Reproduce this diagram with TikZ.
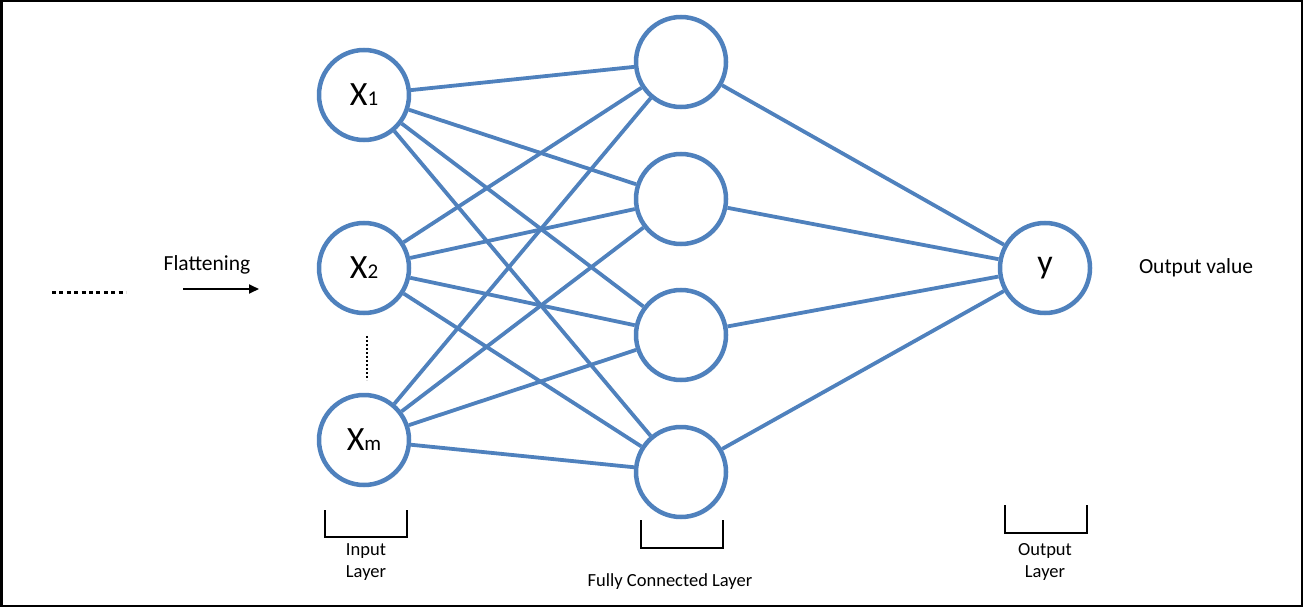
\documentclass[tikz,border=0pt]{standalone}
\usepackage{fontspec}
\setmainfont{Carlito}
\usetikzlibrary{arrows.meta,shadows}
\definecolor{nodeblue}{RGB}{79,129,189}
\tikzset{
  neuron/.style={circle, draw=nodeblue, line width=4.5pt, fill=white, minimum size=90pt, inner sep=0pt,
    drop shadow={opacity=0.18, shadow xshift=1.5pt, shadow yshift=-2pt}},
  conn/.style={draw=nodeblue, line width=3.8pt},
  bracketline/.style={draw=black, line width=2.5pt},
  lbl/.style={font=\fontsize{18.5}{22}\selectfont, align=center, inner sep=0pt},
  biglbl/.style={font=\fontsize{21.5}{25}\selectfont, inner sep=0pt},
}
\newcommand{\neurontext}[2]{{\fontsize{34}{34}\selectfont #1}{\fontsize{21}{21}\selectfont #2}}
\begin{document}
\begin{tikzpicture}[x=1pt,y=-1pt]
\useasboundingbox (0,0) rectangle (1303,607);
\draw[line width=2.5pt] (1.25,1.25) rectangle (1301.75,605.75);
% input nodes
\node[neuron] (x1) at (364,95) {\neurontext{X}{1}};
\node[neuron] (x2) at (364,268) {\neurontext{X}{2}};
\node[neuron] (xm) at (364,440) {\neurontext{X}{m}};
% hidden nodes
\node[neuron] (h1) at (681,62) {};
\node[neuron] (h2) at (681,199) {};
\node[neuron] (h3) at (681,335) {};
\node[neuron] (h4) at (681,472) {};
% output
\node[neuron] (y) at (1045,268) {\fontsize{34}{34}\selectfont y};
% connections
\foreach \i in {x1,x2,xm}{
  \foreach \j in {h1,h2,h3,h4}{
    \draw[conn] (\i) -- (\j);
  }
}
\foreach \j in {h1,h2,h3,h4}{
  \draw[conn] (\j) -- (y);
}
% flattening
\coordinate (d1) at (52,292);
\coordinate (d2) at (126,292);
\draw[line width=3pt, dash pattern=on 4pt off 3.4pt] (d1) -- (d2);
\node[biglbl] (flat) at (207,265) {Flattening};
\coordinate (a1) at (183,289);
\coordinate (a2) at (259,289);
\draw[line width=1.8pt, -{Triangle[length=10pt,width=9pt]}] (a1) -- (a2);
% vertical dots
\coordinate (v1) at (367,336);
\coordinate (v2) at (367,380);
\draw[line width=2.2pt, dash pattern=on 2pt off 2pt] (v1) -- (v2);
% brackets
\draw[bracketline] (325,510) -- (325,537) -- (407,537) -- (407,510);
\draw[bracketline] (641,520) -- (641,548) -- (723,548) -- (723,520);
\draw[bracketline] (1005,505) -- (1005,533) -- (1087,533) -- (1087,505);
% labels
\node[lbl] (inl) at (366,562) {Input\\Layer};
\node[lbl] (fcl) at (670,582) {Fully Connected Layer};
\node[lbl] (outl) at (1045,562) {Output\\Layer};
\node[biglbl] (outv) at (1196,268) {Output value};
\end{tikzpicture}
\end{document}
